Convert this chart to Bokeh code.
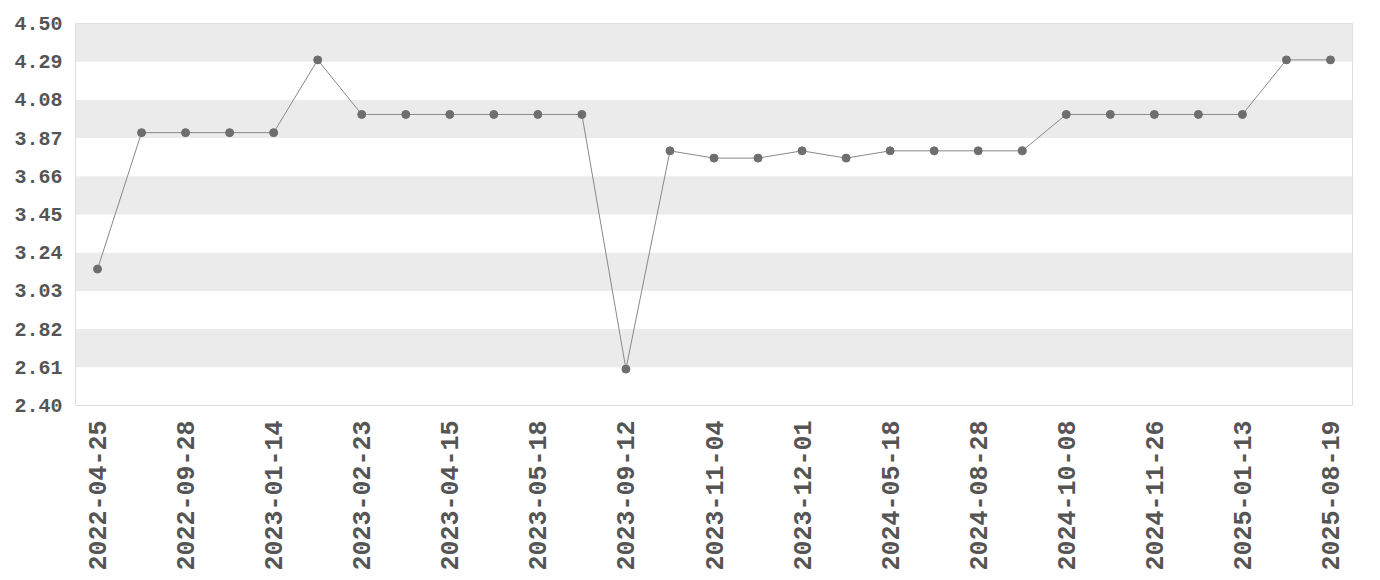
import math
from bokeh.plotting import figure
from bokeh.models import FixedTicker, Range1d
from bokeh.embed import file_html
from bokeh.resources import INLINE

# Data (index positions; every other date is labelled)
values = [3.15, 3.90, 3.90, 3.90, 3.90, 4.30, 4.00, 4.00, 4.00, 4.00, 4.00, 4.00,
          2.60, 3.80, 3.76, 3.76, 3.80, 3.76, 3.80, 3.80, 3.80, 3.80,
          4.00, 4.00, 4.00, 4.00, 4.00, 4.30, 4.30]
tick_labels = ["2022-04-25", "2022-09-28", "2023-01-14", "2023-02-23", "2023-04-15",
               "2023-05-18", "2023-09-12", "2023-11-04", "2023-12-01", "2024-05-18",
               "2024-08-28", "2024-10-08", "2024-11-26", "2025-01-13", "2025-08-19"]
y_ticks = [2.40, 2.61, 2.82, 3.03, 3.24, 3.45, 3.66, 3.87, 4.08, 4.29, 4.50]

xs = list(range(len(values)))
tick_pos = xs[::2]

FONT = "Liberation Mono"

p = figure(frame_width=1277, frame_height=382, output_backend="svg", toolbar_location=None,
           x_range=Range1d(-0.5, len(values) - 0.5), y_range=Range1d(2.40, 4.50),
           min_border_left=75, min_border_top=23, min_border_right=12, min_border_bottom=5)

p.outline_line_color = "#dddddd"
p.background_fill_color = "white"

p.xgrid.visible = False
p.ygrid.ticker = FixedTicker(ticks=y_ticks)
p.ygrid.grid_line_color = None
p.ygrid.band_fill_color = "#ebebeb"
p.ygrid.band_fill_alpha = 1.0

p.xaxis.ticker = FixedTicker(ticks=tick_pos)
p.xaxis.major_label_overrides = {i: lab for i, lab in zip(tick_pos, tick_labels)}
p.xaxis.major_label_orientation = math.pi / 2
p.yaxis.ticker = FixedTicker(ticks=y_ticks)
p.yaxis.major_label_overrides = {t: f"{t:.2f}" for t in y_ticks}

for ax in (p.xaxis[0], p.yaxis[0]):
    ax.axis_line_color = None
    ax.major_tick_line_color = None
    ax.minor_tick_line_color = None
    ax.major_label_text_font = FONT
    ax.major_label_text_font_style = "bold"
    ax.major_label_text_color = "#555555"

p.yaxis.major_label_text_font_size = "20px"
p.yaxis.major_label_standoff = 7
p.xaxis.major_label_text_font_size = "25px"
p.xaxis.major_label_standoff = 9

p.line(xs, values, line_color="#888888", line_width=1)
p.scatter(xs, values, size=8, fill_color="#6e6e6e", line_color="#6e6e6e")

open("out.html", "w").write(file_html(p, INLINE))
